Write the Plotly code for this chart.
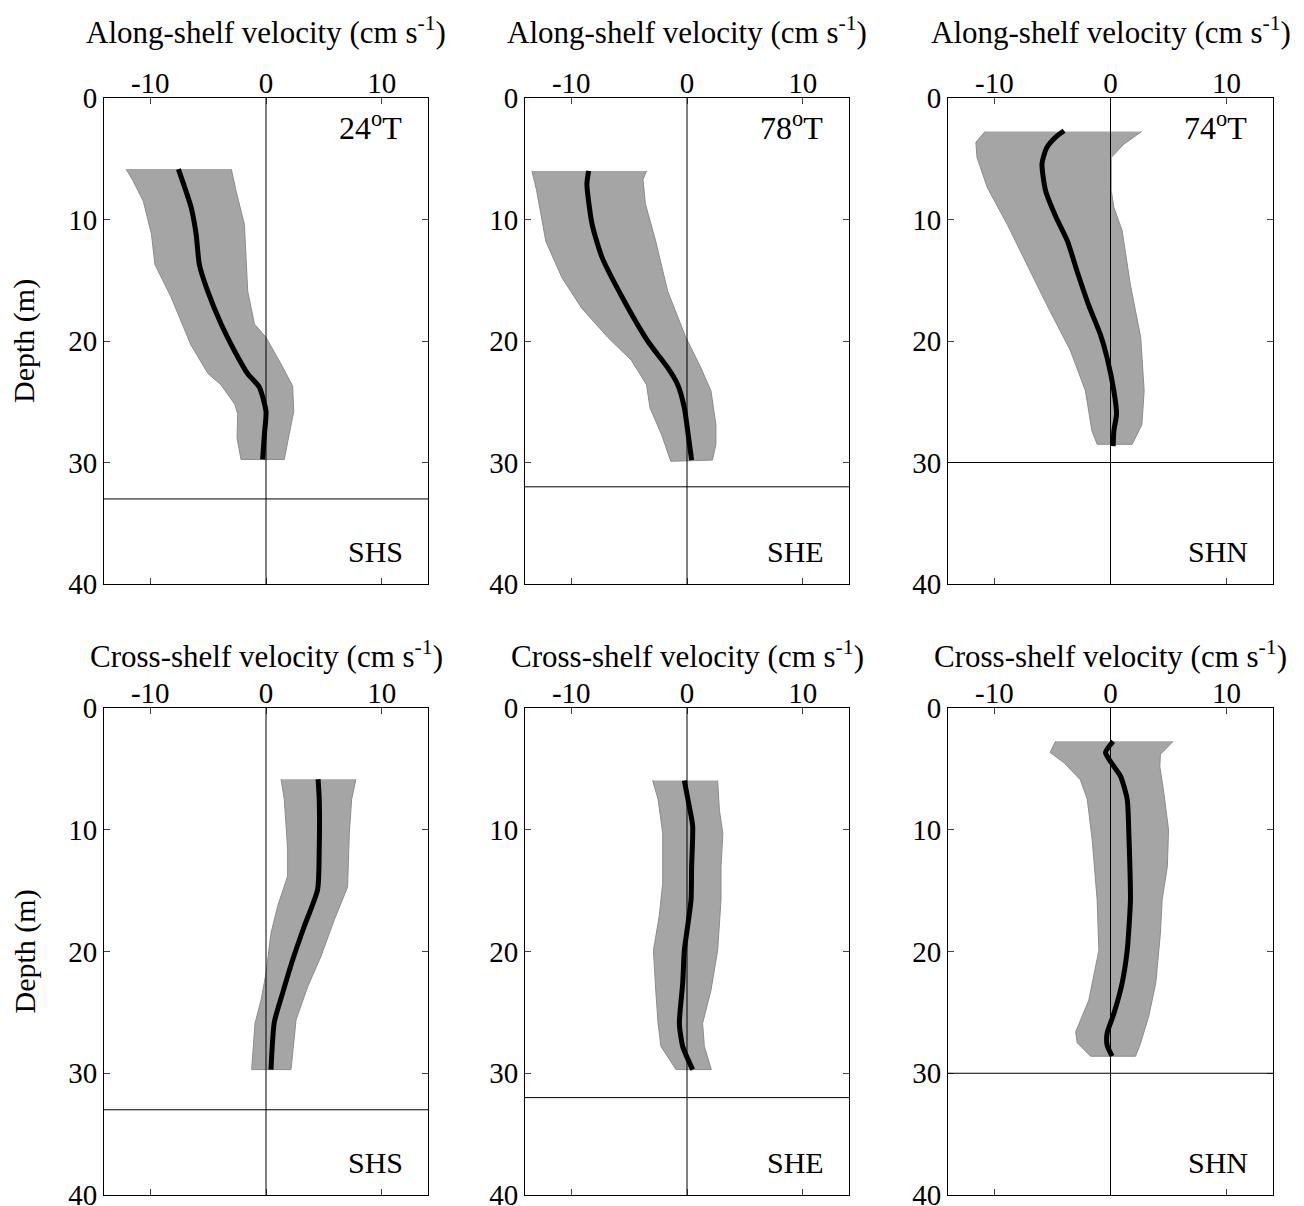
import plotly.graph_objects as go

# ---------------- data ----------------
# Panel 1: SHS along-shelf
shs_al_mean_x = [-7.57, -6.47, -6.04, -5.76, -5.04, -3.88, -2.73, -1.58, -0.58, 0.0, -0.14, -0.29]
shs_al_mean_z = [5.85, 9.0, 11.2, 13.7, 15.9, 18.6, 20.8, 22.7, 23.8, 25.8, 27.7, 29.75]
shs_al_lo_x = [-12.09, -11.5, -10.6, -9.9, -9.6, -8.2, -6.5, -5.0, -3.9, -2.7, -2.45, -2.5, -2.16]
shs_al_lo_z = [5.85, 6.8, 8.5, 11.2, 13.7, 16.4, 20.3, 22.7, 23.6, 25.2, 26.0, 28.0, 29.75]
shs_al_hi_x = [-3.0, -2.6, -1.87, -1.58, -1.0, 0.0, 1.3, 2.3, 2.4, 2.0, 1.58]
shs_al_hi_z = [5.85, 7.6, 10.4, 15.9, 18.6, 19.7, 21.9, 23.7, 25.8, 27.7, 29.75]

# Panel 2: SHE along-shelf
she_al_mean_x = [-8.5, -8.65, -8.2, -7.35, -5.6, -3.4, -1.67, -0.8, -0.23, 0.06, 0.4]
she_al_mean_z = [6.0, 7.1, 10.4, 13.1, 16.4, 20.0, 22.2, 23.6, 25.5, 27.4, 29.8]
she_al_lo_x = [-13.4, -13.0, -12.2, -10.8, -9.1, -6.85, -4.8, -3.5, -3.2, -2.2, -1.4]
she_al_lo_z = [6.0, 7.6, 11.8, 14.8, 17.3, 19.7, 21.6, 23.6, 25.5, 27.7, 29.9]
she_al_hi_x = [-3.5, -3.8, -3.6, -2.7, -1.67, -0.1, 1.2, 2.07, 2.5, 2.5, 2.2]
she_al_hi_z = [6.0, 6.7, 8.7, 11.8, 15.9, 19.7, 22.2, 24.1, 26.9, 28.5, 29.8]

# Panel 3: SHN along-shelf
shn_al_mean_x = [-4.0, -4.7, -5.5, -5.9, -5.6, -4.7, -3.7, -2.9, -1.9, -0.86, -0.29, 0.29, 0.52, 0.29, 0.23]
shn_al_mean_z = [2.7, 3.2, 4.1, 5.4, 7.6, 9.8, 11.8, 14.2, 17.0, 19.5, 21.4, 24.1, 26.0, 27.4, 28.65]
shn_al_lo_x = [-10.8, -11.6, -11.5, -10.6, -8.9, -7.5, -5.5, -3.45, -2.16, -1.6, -1.15]
shn_al_lo_z = [2.75, 3.65, 4.9, 7.4, 10.4, 13.1, 17.0, 20.8, 24.1, 27.4, 28.5]
shn_al_hi_x = [2.7, 1.15, 0.06, 0.06, 0.29, 1.0, 1.7, 2.6, 2.9, 2.7, 1.87]
shn_al_hi_z = [2.75, 3.8, 4.9, 7.6, 9.0, 10.9, 15.3, 19.7, 24.1, 26.9, 28.5]

# Panel 4: SHS cross-shelf
shs_cr_mean_x = [4.5, 4.6, 4.6, 4.46, 3.3, 2.3, 1.44, 0.72, 0.43]
shs_cr_mean_z = [5.85, 7.5, 11.6, 14.9, 17.95, 20.7, 23.4, 25.8, 29.7]
shs_cr_lo_x = [1.3, 1.58, 1.87, 1.87, 1.0, 0.43, 0.0, -0.43, -0.95, -1.24]
shs_cr_lo_z = [5.85, 7.5, 11.6, 13.8, 16.3, 18.5, 21.8, 24.0, 25.9, 29.7]
shs_cr_hi_x = [7.77, 7.4, 7.2, 7.05, 5.9, 4.75, 3.6, 2.6, 2.45, 2.16]
shs_cr_hi_z = [5.85, 7.5, 10.3, 14.7, 17.4, 20.4, 22.9, 25.6, 26.7, 29.7]

# Panel 5: SHE cross-shelf
she_cr_mean_x = [-0.23, 0.2, 0.49, 0.4, 0.35, 0.06, -0.23, -0.37, -0.66, -0.37, 0.49]
she_cr_mean_z = [5.95, 8.1, 9.7, 13.0, 15.75, 17.9, 19.9, 22.6, 25.9, 27.8, 29.7]
she_cr_lo_x = [-2.97, -2.5, -2.1, -2.1, -2.4, -2.9, -2.7, -2.5, -2.25, -0.95]
she_cr_lo_z = [5.95, 7.5, 10.3, 14.4, 17.1, 19.9, 23.2, 25.9, 27.8, 29.7]
she_cr_hi_x = [2.65, 2.8, 3.1, 2.94, 2.94, 2.65, 2.07, 1.35, 1.5, 2.1]
she_cr_hi_z = [5.95, 8.4, 10.3, 13.0, 15.75, 19.9, 23.2, 25.9, 27.8, 29.7]

# Panel 6: SHN cross-shelf
shn_cr_mean_x = [0.23, -0.43, 0.0, 0.86, 1.44, 1.58, 1.67, 1.72, 1.44, 1.0, 0.29, -0.29, -0.29, 0.14]
shn_cr_mean_z = [2.74, 3.65, 4.4, 5.6, 7.5, 10.3, 13.0, 15.75, 19.9, 22.6, 25.1, 26.7, 27.7, 28.6]
shn_cr_lo_x = [-4.74, -5.2, -4.0, -2.6, -2.0, -1.58, -1.15, -1.0, -1.87, -3.0, -2.87, -1.72]
shn_cr_lo_z = [2.74, 3.65, 4.5, 5.9, 7.5, 10.8, 15.75, 19.9, 24.0, 26.6, 27.5, 28.6]
shn_cr_hi_x = [5.4, 4.3, 4.25, 4.6, 5.0, 4.9, 4.45, 4.3, 3.9, 3.3, 2.6, 2.16]
shn_cr_hi_z = [2.74, 3.8, 4.8, 7.0, 10.0, 13.0, 15.75, 18.5, 22.6, 25.3, 27.5, 28.6]

bottom_depths = [33, 32, 30]          # SHS, SHE, SHN water depth lines
station_names = ["SHS", "SHE", "SHN"]
headings = ["24", "78", "74"]
x_ticks = [-10, 0, 10]
y_ticks = [0, 10, 20, 30, 40]
row_titles = ["Along-shelf velocity (cm s<sup>-1</sup>)", "Cross-shelf velocity (cm s<sup>-1</sup>)"]

panels = [
    (shs_al_mean_x, shs_al_mean_z, shs_al_lo_x, shs_al_lo_z, shs_al_hi_x, shs_al_hi_z),
    (she_al_mean_x, she_al_mean_z, she_al_lo_x, she_al_lo_z, she_al_hi_x, she_al_hi_z),
    (shn_al_mean_x, shn_al_mean_z, shn_al_lo_x, shn_al_lo_z, shn_al_hi_x, shn_al_hi_z),
    (shs_cr_mean_x, shs_cr_mean_z, shs_cr_lo_x, shs_cr_lo_z, shs_cr_hi_x, shs_cr_hi_z),
    (she_cr_mean_x, she_cr_mean_z, she_cr_lo_x, she_cr_lo_z, she_cr_hi_x, she_cr_hi_z),
    (shn_cr_mean_x, shn_cr_mean_z, shn_cr_lo_x, shn_cr_lo_z, shn_cr_hi_x, shn_cr_hi_z),
]

# ---------------- layout ----------------
OFF = 8                      # page body margin of the browser
W, H = 1304 - OFF, 1206 - OFF
col_px = [(104, 428), (525, 849), (948, 1273)]   # page coordinates
row_px = [(98, 584), (708, 1195)]
title_y = [30, 655]
FONT = "Liberation Serif, Times New Roman, serif"
TICK_SIZE = 29
TEXT_SIZE = 30


def px_x(v):
    return (v - OFF) / W


def px_y(v):
    return 1 - (v - OFF) / H


fig = go.Figure()
layout = dict(
    width=W, height=H, margin=dict(l=0, r=0, t=0, b=0, autoexpand=False),
    paper_bgcolor="white", plot_bgcolor="white", showlegend=False,
    font=dict(family=FONT, size=TICK_SIZE, color="black"),
)
annotations = []
shapes = []

for i, (mx, mz, lx, lz, hx, hz) in enumerate(panels):
    r, c = divmod(i, 3)
    n = i + 1
    xa = "x" if n == 1 else f"x{n}"
    ya = "y" if n == 1 else f"y{n}"
    xkey = "xaxis" if n == 1 else f"xaxis{n}"
    ykey = "yaxis" if n == 1 else f"yaxis{n}"
    x0, x1 = col_px[c]
    y0, y1 = row_px[r]
    layout[xkey] = dict(
        domain=[px_x(x0), px_x(x1)], anchor=ya, range=[-14, 14], side="top",
        tickvals=x_ticks, ticktext=[str(v) for v in x_ticks], ticks="inside", ticklen=6,
        ticklabelstandoff=-8, ticklabeloverflow="allow",
        showline=True, linecolor="black", linewidth=1, mirror="ticks", automargin=False,
        showgrid=False, zeroline=False, tickfont=dict(size=TICK_SIZE, family=FONT),
    )
    layout[ykey] = dict(
        domain=[px_y(y1), px_y(y0)], anchor=xa, range=[40, 0],
        tickvals=y_ticks, ticktext=[str(v) for v in y_ticks], ticks="inside", ticklen=6,
        ticklabeloverflow="allow",
        showline=True, linecolor="black", linewidth=1, mirror="ticks", automargin=False,
        showgrid=False, zeroline=False, tickfont=dict(size=TICK_SIZE, family=FONT),
    )
    # std band
    fig.add_trace(go.Scatter(
        x=lx + hx[::-1], y=lz + hz[::-1], xaxis=xa, yaxis=ya,
        fill="toself", fillcolor="#a5a5a5", mode="lines",
        line=dict(color="#8c8c8c", width=1), hoverinfo="skip",
    ))
    # mean profile
    fig.add_trace(go.Scatter(
        x=mx, y=mz, xaxis=xa, yaxis=ya, mode="lines",
        line=dict(color="black", width=5, shape="spline", smoothing=0.6),
    ))
    # zero line
    shapes.append(dict(type="line", xref=xa, yref=f"{ya} domain", x0=0, x1=0, y0=0, y1=1,
                       line=dict(color="black", width=1)))
    # bottom depth line
    shapes.append(dict(type="line", xref=f"{xa} domain", yref=ya, x0=0, x1=1,
                       y0=bottom_depths[c], y1=bottom_depths[c],
                       line=dict(color="black", width=1)))
    # station name
    annotations.append(dict(xref=f"{xa} domain", yref=ya, x=0.93, y=37.3,
                            text=station_names[c], showarrow=False, xanchor="right",
                            yanchor="middle", font=dict(size=TEXT_SIZE, family=FONT)))
    if r == 0:
        annotations.append(dict(xref=f"{xa} domain", yref=ya, x=0.925, y=2.3,
                                text=f"{headings[c]}<sup>o</sup>T", showarrow=False,
                                xanchor="right", yanchor="middle",
                                font=dict(size=TEXT_SIZE + 2, family=FONT)))
    # row title above each panel
    annotations.append(dict(xref="paper", yref="paper", x=px_x((x0 + x1) / 2),
                            y=px_y(title_y[r]), text=row_titles[r], showarrow=False,
                            xanchor="center", yanchor="middle",
                            font=dict(size=TEXT_SIZE + 1, family=FONT)))
    if c == 0:
        annotations.append(dict(xref="paper", yref="paper", x=px_x(24),
                                y=px_y((y0 + y1) / 2), text="Depth (m)", showarrow=False,
                                textangle=-90, xanchor="center", yanchor="middle",
                                font=dict(size=TEXT_SIZE, family=FONT)))

layout["annotations"] = annotations
layout["shapes"] = shapes
fig.update_layout(**layout)
fig.write_html("out.html")
